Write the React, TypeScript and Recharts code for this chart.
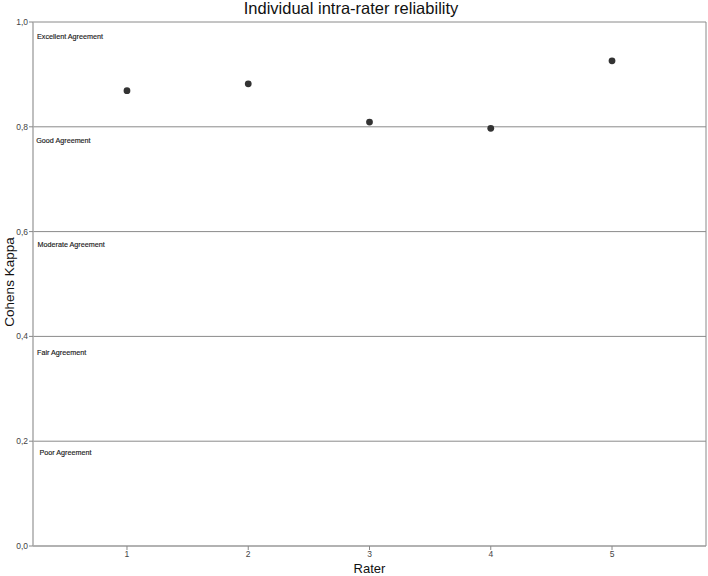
import { Label, ReferenceLine, Scatter, ScatterChart, XAxis, YAxis } from "recharts";

const raters = [1, 2, 3, 4, 5];
const kappa = [0.869, 0.882, 0.809, 0.797, 0.926];

const bandNames = ["Excellent Agreement", "Good Agreement", "Moderate Agreement", "Fair Agreement", "Poor Agreement"];
const bandLabelY = [0.972, 0.774, 0.576, 0.37, 0.178];
const bandLabelX = [0.258, 0.252, 0.263, 0.258, 0.279];

const bandLines = [0.2, 0.4, 0.6, 0.8, 1.0];
const yTicks = [0, 0.2, 0.4, 0.6, 0.8, 1.0];
const xDomain: [number, number] = [0.225, 5.775];

const points = raters.map((r, i) => ({ x: r, y: kappa[i] }));
const bands = bandNames.map((name, i) => ({ x: bandLabelX[i], y: bandLabelY[i], name }));

const font = "'Liberation Sans', Arial, sans-serif";

function BandText(props: any) {
  const { cx, cy, payload } = props;
  return (
    <text x={cx} y={cy} dy="0.35em" fontSize={7.2} fontFamily={font} fill="#1a1a1a" stroke="#1a1a1a" strokeWidth={0.15} textAnchor="start">
      {payload.name}
    </text>
  );
}

function Dot(props: any) {
  return <circle cx={props.cx} cy={props.cy} r={3.4} fill="#333" />;
}

function YTitle(props: any) {
  const vb = props.viewBox;
  const cx = vb.x + 13.5;
  const cy = vb.y + vb.height / 2 - 2;
  return (
    <text x={cx} y={cy} transform={`rotate(-90, ${cx}, ${cy})`} textAnchor="middle" fontSize={13.5} fontFamily={font} fill="#111">
      Cohens Kappa
    </text>
  );
}

function XTitle(props: any) {
  const vb = props.viewBox;
  return (
    <text x={vb.x + vb.width / 2} y={vb.y + 27} textAnchor="middle" fontSize={13} fontFamily={font} fill="#111">
      Rater
    </text>
  );
}

export default function App() {
  return (
    <div style={{ position: "absolute", left: 0, top: 0, width: 708, height: 576, background: "#fff" }}>
      <div
        style={{
          position: "absolute",
          left: 0,
          width: 702,
          top: -1,
          textAlign: "center",
          fontFamily: font,
          fontSize: 16.5,
          color: "#111",
        }}
      >
        Individual intra-rater reliability
      </div>
      <ScatterChart width={708} height={576} margin={{ top: 22, right: 2, bottom: 0, left: 0 }}>
        <XAxis
          type="number"
          dataKey="x"
          domain={xDomain}
          ticks={raters}
          allowDataOverflow
          height={30}
          tickSize={4}
          tickLine={{ stroke: "#888" }}
          axisLine={{ stroke: "#999", strokeWidth: 1.5 }}
          tick={{ fontSize: 8.5, fill: "#444", fontFamily: font }}
          tickMargin={1}
        >
          <Label content={XTitle} />
        </XAxis>
        <YAxis
          type="number"
          dataKey="y"
          domain={[0, 1]}
          ticks={yTicks}
          width={33}
          tickSize={4}
          tickLine={{ stroke: "#888" }}
          axisLine={{ stroke: "#aaa", strokeWidth: 1.5 }}
          tick={{ fontSize: 8.5, fill: "#444", fontFamily: font }}
          tickMargin={1}
          tickFormatter={(v: number) => v.toFixed(1).replace(".", ",")}
        >
          <Label content={YTitle} />
        </YAxis>
        {bandLines.map((v) => (
          <ReferenceLine key={v} y={v} stroke="#8a8a8a" strokeWidth={1} />
        ))}
        <ReferenceLine x={xDomain[1]} stroke="#8a8a8a" strokeWidth={1} />
        <Scatter data={bands} shape={BandText} isAnimationActive={false} />
        <Scatter data={points} shape={Dot} isAnimationActive={false} />
      </ScatterChart>
    </div>
  );
}
